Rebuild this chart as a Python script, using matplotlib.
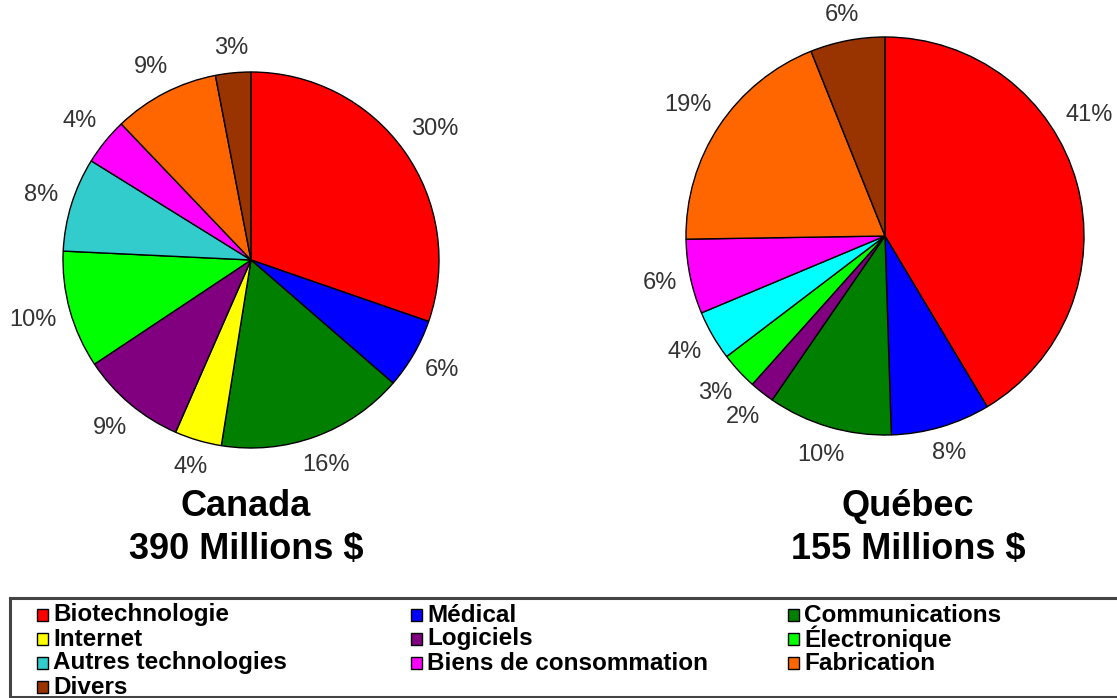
import numpy as np
import matplotlib.pyplot as plt
from matplotlib.patches import Rectangle

# -----------------------------
# Data
# -----------------------------
categories = ["Biotechnologie", "Médical", "Communications", "Internet", "Logiciels",
              "Électronique", "Autres technologies", "Biens de consommation",
              "Fabrication", "Divers"]
canada_pct = [30, 6, 16, 4, 9, 10, 8, 4, 9, 3]
quebec_pct = [41, 8, 10, 0, 2, 3, 4, 6, 19, 6]

colors = ["#FF0000", "#0000FF", "#007F00", "#FFFF00", "#800080",
          "#00FF00", "#33CCCC", "#FF00FF", "#FF6600", "#993300"]
quebec_colors = list(colors)
quebec_colors[6] = "#00FFFF"

W, H = 1117, 698

fig = plt.figure(figsize=(W / 100, H / 100), dpi=100)
ax = fig.add_axes([0, 0, 1, 1])
ax.axis("off")
renderer = fig.canvas.get_renderer()


def draw_pie(values, cols, cx, cy, r, title, subtitle, tx, nudge=None):
    nudge = nudge or {}
    vals = [v for v in values if v > 0]
    cc = [c for v, c in zip(values, cols) if v > 0]
    wedges, _ = ax.pie(vals, colors=cc, startangle=90, counterclock=False,
                       center=(cx, H - cy), radius=r,
                       wedgeprops=dict(edgecolor="black", linewidth=1.0))
    ax.set_xlim(0, W)
    ax.set_ylim(0, H)
    ax.set_aspect("auto")
    # Excel-like labels: box just outside the rim along the bisector
    gap = 12
    for i, (w, v) in enumerate(zip(wedges, vals)):
        a = np.deg2rad((w.theta1 + w.theta2) / 2)
        ux, uy = np.cos(a), np.sin(a)
        t = ax.text(0, 0, f"{v}%", ha="center", va="center", fontsize=17,
                    color="#333333", family="Liberation Sans")
        bb = t.get_window_extent(renderer)
        ext = abs(ux) * bb.width / 2 + abs(uy) * bb.height / 2
        d = r + gap + ext
        dx, dy = nudge.get(i, (0, 0))
        t.set_position((cx + d * ux + dx, H - cy + d * uy + dy))
    ax.text(tx, H - 507, title, ha="center", va="center", fontsize=26,
            fontweight="bold", family="Liberation Sans")
    ax.text(tx, H - 550, subtitle, ha="center", va="center", fontsize=26,
            fontweight="bold", family="Liberation Sans")


draw_pie(canada_pct, colors, 251, 260, 188, "Canada", "390 Millions $", 246)
draw_pie(quebec_pct, quebec_colors, 885, 236, 199, "Québec", "155 Millions $", 908,
         nudge={0: (-24, 58)})

# -----------------------------
# Legend (drawn by hand, row by row)
# -----------------------------
ax.add_patch(Rectangle((10, H - 697), W + 20, 99, facecolor="white",
                       edgecolor="#444444", linewidth=2.2))
col_x = [37, 411, 788]
row_y = [615, 639, 663, 687]
for i, (name, c) in enumerate(zip(categories, colors)):
    x = col_x[i % 3]
    y = row_y[i // 3]
    ax.add_patch(Rectangle((x, H - y - 6), 11, 12, facecolor=c,
                           edgecolor="black", linewidth=1.0))
    ax.text(x + 16, H - y, name, ha="left", va="center", fontsize=17.5,
            fontweight="bold", family="Liberation Sans")

fig.savefig("out.png", dpi=100)
